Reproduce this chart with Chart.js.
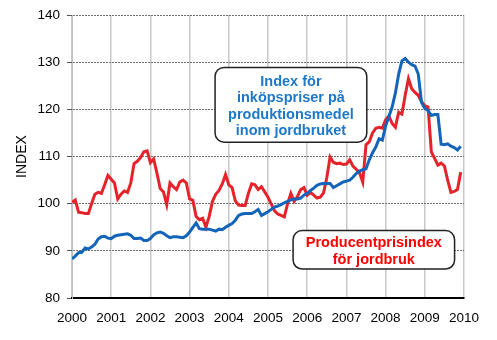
<!DOCTYPE html>
<html>
<head>
<meta charset="utf-8">
<script src="https://cdn.jsdelivr.net/npm/chart.js@4/dist/chart.umd.min.js"></script>
<style>
  html, body { margin: 0; padding: 0; background: #fff; }
  #wrap { width: 497px; height: 340px; }
</style>
</head>
<body>
<div id="wrap"><canvas id="chart" width="497" height="340"></canvas></div>
<script>
// monthly series, Jan 2000 - Dec 2009
const startYear = 2000;
const yearTicks = [2000, 2001, 2002, 2003, 2004, 2005, 2006, 2007, 2008, 2009, 2010];
const indexTicks = [80, 90, 100, 110, 120, 130, 140];

// Index för inköpspriser på produktionsmedel inom jordbruket
const inputPrices = [
  88.3, 88.9, 89.6, 89.7, 90.6, 90.4, 90.8, 91.4, 92.5, 93.0, 93.1, 92.7,
  92.6, 93.1, 93.3, 93.4, 93.5, 93.6, 93.3, 92.6, 92.6, 92.7, 92.2, 92.2,
  92.6, 93.4, 93.8, 94.0, 93.7, 93.2, 92.8, 93.0, 93.0, 92.9, 92.8, 93.2,
  94.0, 95.0, 95.9, 94.7, 94.6, 94.6, 94.6, 94.4, 94.2, 94.6, 94.5, 95.0,
  95.4, 95.8, 96.5, 97.5, 97.8, 97.9, 97.9, 97.9, 98.3, 98.8, 97.5, 97.9,
  98.3, 98.8, 99.3, 99.5, 99.8, 100.2, 100.5, 100.8, 101.0, 101.0, 101.2, 101.8,
  102.2, 102.8, 103.3, 103.9, 104.2, 104.3, 104.3, 104.3, 103.4, 103.8, 104.2, 104.6,
  104.8, 105.0, 105.6, 106.4, 106.9, 107.2, 107.4, 109.3, 110.8, 112.0, 113.8, 113.5,
  116.5, 118.5, 120.5, 123.5, 127.5, 130.3, 130.8, 130.0, 129.5, 129.2, 127.5, 121.5,
  120.2, 119.8, 118.7, 118.9, 118.9, 112.6, 112.5, 112.7, 112.2, 111.9, 111.4, 112.2
];

// Producentprisindex för jordbruk
const producerPrices = [
  100.3, 100.8, 98.2, 98.1, 97.9, 97.9, 100.0, 102.0, 102.4, 102.2, 104.0, 106.0,
  105.2, 104.4, 101.0, 102.0, 102.7, 102.4, 104.4, 108.5, 109.0, 109.8, 111.0, 111.2,
  108.7, 109.5, 106.5, 103.2, 102.5, 99.8, 104.4, 103.6, 103.0, 104.6, 105.0, 104.4,
  101.0, 100.7, 97.3, 96.6, 96.9, 95.0, 97.3, 100.5, 102.0, 102.8, 104.2, 106.2,
  104.0, 103.4, 100.6, 99.7, 99.6, 99.6, 102.2, 104.2, 104.0, 103.0, 103.6, 102.5,
  101.4, 99.9, 98.5, 97.8, 97.5, 97.2, 100.0, 102.2, 100.5, 101.5, 103.0, 103.4,
  101.8, 102.4, 101.8, 101.2, 101.4, 102.3, 105.5, 109.9, 108.8, 108.5, 108.6, 108.3,
  108.4, 109.3, 108.0, 107.3, 106.6, 104.6, 112.5, 113.1, 115.0, 116.0, 116.2, 116.0,
  117.8, 118.6, 117.0, 116.2, 119.4, 119.0, 123.0, 126.5, 124.4, 123.6, 123.0, 121.6,
  120.8, 120.5, 111.0, 109.6, 108.2, 108.6, 108.0, 105.0, 102.4, 102.6, 103.0, 106.7
];

const toPoints = arr => arr.map((v, i) => ({ x: startYear + i / 12, y: v }));

const FONT = '"Liberation Sans", Arial, sans-serif';

// labelled boxes, placed in axis units
const callouts = [
  { x0: 2003.65, x1: 2007.52, y0: 113.05, y1: 128.9, dy: 1.6, color: '#1E78C8',
    lines: ['Index för', 'inköpspriser på', 'produktionsmedel', 'inom jordbruket'] },
  { x0: 2005.64, x1: 2009.76, y0: 86.15, y1: 94.3, dy: 1.7, color: '#FF0000',
    lines: ['Producentprisindex', 'för jordbruk'] }
];

const calloutPlugin = {
  id: 'callouts',
  afterDatasetsDraw(chart) {
    const { ctx, scales: { x, y } } = chart;
    callouts.forEach(c => {
      const left = x.getPixelForValue(c.x0), right = x.getPixelForValue(c.x1);
      const top = y.getPixelForValue(c.y1), bottom = y.getPixelForValue(c.y0);
      ctx.save();
      ctx.beginPath();
      ctx.roundRect(left, top, right - left, bottom - top, 9);
      ctx.fillStyle = '#fff';
      ctx.fill();
      ctx.lineWidth = 1.5;
      ctx.strokeStyle = '#222';
      ctx.stroke();
      ctx.fillStyle = c.color;
      ctx.font = 'bold 14.5px ' + FONT;
      ctx.textAlign = 'center';
      ctx.textBaseline = 'middle';
      const cx = (left + right) / 2, cy = (top + bottom) / 2;
      const lh = 16.2;
      c.lines.forEach((t, i) => {
        ctx.fillText(t, cx, cy + c.dy + (i - (c.lines.length - 1) / 2) * lh);
      });
      ctx.restore();
    });
  }
};

new Chart(document.getElementById('chart'), {
  type: 'line',
  data: {
    datasets: [
      { label: 'Index för inköpspriser', data: toPoints(inputPrices),
        borderColor: '#1464BA', borderWidth: 3, pointRadius: 0, tension: 0 },
      { label: 'Producentprisindex', data: toPoints(producerPrices),
        borderColor: '#E6222B', borderWidth: 3, pointRadius: 0, tension: 0 }
    ]
  },
  options: {
    responsive: false,
    animation: false,
    layout: { padding: { left: 0, right: 33, top: 14, bottom: 0 } },
    plugins: { legend: { display: false }, tooltip: { enabled: false } },
    scales: {
      x: {
        type: 'linear',
        min: 2000, max: 2010,
        afterBuildTicks: s => { s.ticks = yearTicks.map(v => ({ value: v })); },
        afterFit: s => { s.height = 42; },
        ticks: { color: '#000', font: { family: FONT, size: 13.5 }, padding: 12,
                 maxRotation: 0, callback: v => String(v) },
        grid: { color: '#c8c8c8', lineWidth: 1.5, drawTicks: false },
        border: { color: '#000', width: 2 }
      },
      y: {
        min: 80, max: 140,
        afterBuildTicks: s => { s.ticks = indexTicks.map(v => ({ value: v })); },
        afterFit: s => { s.width = 72; },
        ticks: { color: '#000', font: { family: FONT, size: 13.5 }, padding: 7 },
        grid: { color: '#6e6e6e', lineWidth: 1, tickLength: 5, tickColor: '#555', tickBorderDash: [] },
        border: { color: '#c0c0c0', width: 1, dash: [2, 1] },
        title: { display: true, text: 'INDEX', color: '#000',
                 font: { family: FONT, size: 14 }, padding: { top: 14, bottom: 0 } }
      }
    }
  },
  plugins: [calloutPlugin]
});
</script>
</body>
</html>
